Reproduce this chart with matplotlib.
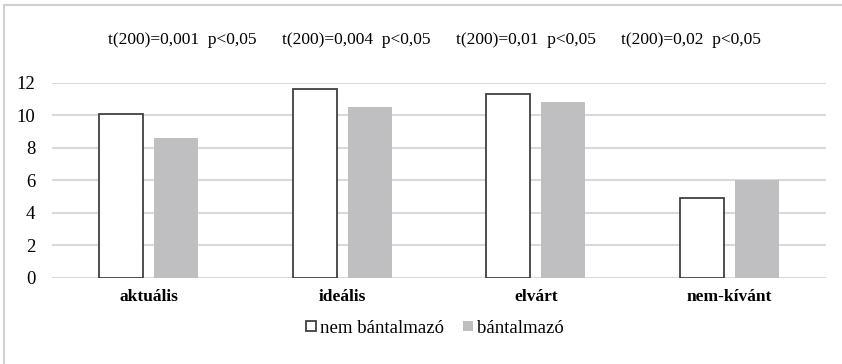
import matplotlib.pyplot as plt
import numpy as np
from matplotlib.patches import Rectangle

# adatok
categories = ['aktuális', 'ideális', 'elvárt', 'nem-kívánt']
nem_bantalmazo = [10.1, 11.6, 11.3, 4.95]
bantalmazo = [8.6, 10.5, 10.85, 6.0]
t_labels = ['t(200)=0,001  p<0,05', 't(200)=0,004  p<0,05',
            't(200)=0,01  p<0,05', 't(200)=0,02  p<0,05']
t_xpos = [0.216, 0.423, 0.625, 0.821]

plt.rcParams['font.family'] = ['Liberation Serif', 'DejaVu Serif']
plt.rcParams['font.size'] = 12.5

fig = plt.figure(figsize=(8.42, 3.64), dpi=100)
ax = fig.add_axes([0.0618, 0.2363, 0.9192, 0.5357])

x = np.arange(len(categories))
w = 0.227
off = 0.142
ax.bar(x - off, nem_bantalmazo, w, color='white', edgecolor='#404040',
       linewidth=1.3, label='nem bántalmazó', zorder=3)
ax.bar(x + off, bantalmazo, w, color='#bfbfc1', edgecolor='none',
       label='bántalmazó', zorder=3)

ax.set_xlim(-0.5, len(categories) - 0.5)
ax.set_ylim(0, 12)
ax.set_yticks(range(0, 13, 2))
ax.set_xticks(x)
ax.set_xticklabels(categories, fontweight='bold', fontsize=12.5)
ax.tick_params(axis='y', length=0, pad=12, labelsize=13.5)
ax.tick_params(axis='x', length=0, pad=8)
ax.yaxis.grid(True, color='#d9d9d9', linewidth=1.5, zorder=0)
for s in ax.spines.values():
    s.set_visible(False)

# t-próba feliratok
for xp, t in zip(t_xpos, t_labels):
    fig.text(xp, 0.89, t, ha='center', va='center', fontsize=12.5)

ax.legend(loc='upper center', bbox_to_anchor=(0.495, -0.175), ncol=2,
          frameon=False, handlelength=0.5, handleheight=0.5,
          handletextpad=0.25, columnspacing=1.0, borderaxespad=0,
          fontsize=13.5)

# keret
fig.patches.append(Rectangle((4 / 842, -0.1), 1.2, 1.1 - 5 / 364,
                             transform=fig.transFigure, fill=False,
                             edgecolor='#d0d0d0', linewidth=1.5))

fig.savefig('out.png', dpi=100)
